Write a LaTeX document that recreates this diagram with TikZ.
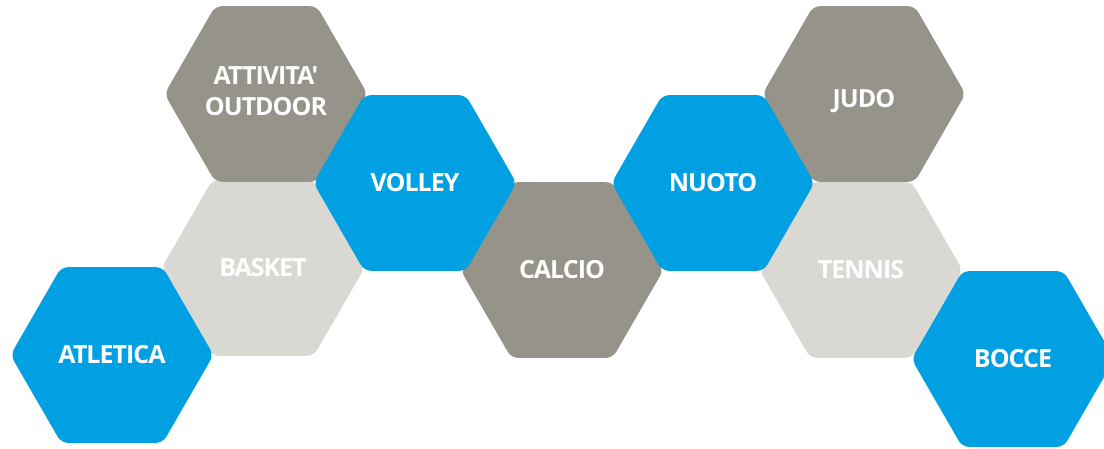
\documentclass[tikz,border=0pt]{standalone}
\usepackage{fontspec}
\usepackage{xcolor}
\usetikzlibrary{shapes.geometric}
\newfontfamily\hexfont{Open Sans}[LetterSpace=-4]
\definecolor{sportblue}{RGB}{0, 160, 227}
\definecolor{sportgrey}{RGB}{150, 147, 138}
\definecolor{sportsand}{RGB}{218, 216, 210}
\tikzset{
    hexa/.style={regular polygon, regular polygon sides=6,
        minimum size=203pt, inner sep=0pt, outer sep=0pt, rounded corners=7pt,
        text=white, align=center, font=\hexfont\bfseries\fontsize{25}{32}\selectfont},
    bluehex/.style={hexa, fill=sportblue},
    greyhex/.style={hexa, fill=sportgrey},
    sandhex/.style={hexa, fill=sportsand}
}

\begin{document}
\begin{tikzpicture}[x=1pt, y=-1pt]
    \clip (0,0) rectangle (1104,448);

    % Back row
    \node[sandhex] (basket) at (263, 268) {BASKET};
    \node[sandhex] (tennis) at (861, 270) {TENNIS};
    \node[greyhex] (outdoor) at (266, 94) {\raisebox{-6pt}[0pt][0pt]{\begin{tabular}{@{}c@{}}ATTIVITA'\\[-1pt]OUTDOOR\end{tabular}}};
    \node[greyhex] (judo) at (864, 94) {\raisebox{-13pt}[0pt][0pt]{JUDO}};
    \node[greyhex] (calcio) at (562, 270) {CALCIO};

    % Front row
    \node[bluehex] (atletica) at (112, 355) {ATLETICA};
    \node[bluehex] (volley) at (415, 183) {VOLLEY};
    \node[bluehex] (nuoto) at (713, 183) {NUOTO};
    \node[bluehex] (bocce) at (1013, 359) {BOCCE};

\end{tikzpicture}
\end{document}
